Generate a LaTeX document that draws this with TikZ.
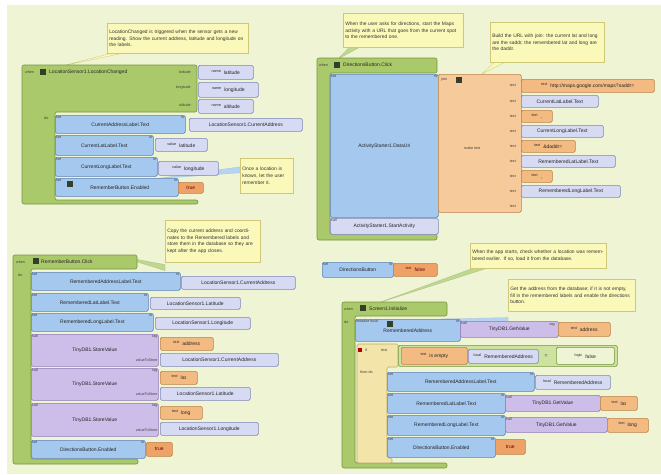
\documentclass[tikz,border=0pt]{standalone}
\usepackage{fontspec}
\setsansfont{Liberation Sans}
\pgfdeclarelayer{paper}
\pgfdeclarelayer{tails}
\pgfsetlayers{paper,tails,main}

\definecolor{cBg}{RGB}{238,244,212}
\definecolor{cEv}{RGB}{170,201,106}
\definecolor{cEvD}{RGB}{118,148,62}
\definecolor{cBlue}{RGB}{164,200,238}
\definecolor{cBlueD}{RGB}{92,128,180}
\definecolor{cLav}{RGB}{214,218,243}
\definecolor{cLavD}{RGB}{128,134,182}
\definecolor{cPur}{RGB}{204,190,233}
\definecolor{cPurD}{RGB}{140,120,182}
\definecolor{cOr}{RGB}{243,186,130}
\definecolor{cOrD}{RGB}{188,130,72}
\definecolor{cTrue}{RGB}{238,162,104}
\definecolor{cJoin}{RGB}{246,202,154}
\definecolor{cCm}{RGB}{251,249,186}
\definecolor{cCmD}{RGB}{206,200,120}
\definecolor{cIf}{RGB}{243,228,170}
\definecolor{cIfD}{RGB}{190,170,100}
\definecolor{cCmp}{RGB}{206,226,160}
\definecolor{cIcon}{RGB}{52,62,40}

\newcommand\blkfont{\sffamily\fontsize{5}{6}\selectfont}
\newcommand\smfont{\sffamily\fontsize{3.7}{4.2}\selectfont}
\newcommand\cmfont{\sffamily\fontsize{4.9}{6.6}\selectfont}
\newcommand\nm[1]{\raisebox{2pt}{\smfont #1}\hspace{3pt}}
% block node: style, name, x1, y1, x2, y2, text
\newcommand\bk[7]{\node[#1,anchor=north west,minimum width={#5-#3},minimum height={#6-#4}] (#2) at (#3,#4) {#7};}

\tikzset{
  sl/.style={font=\smfont, inner sep=1pt, text=black!75},
  evt/.style={font=\blkfont, inner sep=0pt, text=black!85},
  blk/.style={rounded corners=1.5pt, line width=0.6pt, inner sep=0.5pt, font=\blkfont, text=black!85},
  setb/.style={blk, fill=cBlue, draw=cBlueD,
    label={[sl,anchor=north west]north west:set},
    label={[sl,anchor=north east]north east:to}},
  getb/.style={blk, fill=cLav, draw=cLavD},
  callb/.style={blk, fill=cPur, draw=cPurD, label={[sl,anchor=north west]north west:call}},
  txtb/.style={blk, fill=cOr, draw=cOrD},
  boolb/.style={blk, fill=cTrue, draw=cOrD, text=red!40!black},
  evf/.style={fill=cEv, draw=cEvD, line width=0.6pt, rounded corners=2pt},
  cmt/.style={draw=cCmD, fill=cCm, line width=0.6pt, inner sep=2pt, font=\cmfont,
    align=left, anchor=north west, text=black!80},
  tailg/.style={fill=cEv!75, draw=cEvD!60, line width=0.3pt},
  tailb/.style={fill=cBlue!80, draw=cBlueD!50, line width=0.3pt},
  tailc/.style={fill=cCm, draw=cCmD, line width=0.3pt},
}

\begin{document}
\begin{tikzpicture}[x=1pt,y=-1pt]
\useasboundingbox (0,0) rectangle (661,474);
\begin{pgfonlayer}{paper}
  \fill[white] (0,0) rectangle (661,474);
  \fill[cBg] (7,5) rectangle (661,474);
\end{pgfonlayer}

% ---------------- when LocationSensor1.LocationChanged ----------------
\path[evf] (22,65) -- (197,65) -- (197,112) -- (55,112) -- (55,200) -- (198,200) -- (198,204) -- (22,204) -- cycle;
\node[sl,anchor=west] at (24,72) {when};
\fill[cIcon] (40,69) rectangle (46,75);
\node[evt,anchor=west] (ev1) at (49,72) {LocationSensor1.LocationChanged};
\coordinate (ev1tip) at (62,66);
\node[sl,anchor=east] at (192,72) {latitude};
\node[sl,anchor=east] at (192,88) {longitude};
\node[sl,anchor=east] at (192,105) {altitude};
\bk{getb}{n1a}{198}{65}{253}{79}{\nm{name}latitude}
\bk{getb}{n1b}{198}{82}{258}{97}{\nm{name}longitude}
\bk{getb}{n1c}{198}{99}{253}{113}{\nm{name}altitude}
\node[sl,anchor=west] at (43,118) {do};
\bk{setb}{b1a}{55}{115}{185}{133}{CurrentAddressLabel.Text\hspace{8pt}}
\bk{getb}{g1a}{189}{118}{302}{131}{LocationSensor1.CurrentAddress}
\bk{setb}{b1b}{55}{135}{153}{155}{CurrentLatLabel.Text\hspace{6pt}}
\bk{getb}{g1b}{155}{138}{207}{151}{\nm{value}latitude}
\bk{setb}{b1c}{55}{157}{157}{176}{CurrentLongLabel.Text\hspace{6pt}}
\bk{getb}{g1c}{158}{161}{218}{175}{\nm{value}longitude}
\bk{setb}{b1d}{55}{178}{178}{196}{\hspace{6pt}RememberButton.Enabled}
\fill[cIcon] (67,181) rectangle (73,187);
\bk{boolb}{t1d}{178}{182}{203}{193}{true}

\node[cmt,text width=137,minimum width=141,minimum height=30] (cm1) at (107,23)
  {LocationChanged is triggered when the sensor gets a new reading. Show the current address, latitude and longitude on the labels.};
\node[cmt,text width=49,minimum width=53,minimum height=35] (cm1b) at (240,158)
  {Once a location is known, let the user remember it.};
\begin{pgfonlayer}{tails}
  \filldraw[tailc] ([xshift=3pt]cm1.south west) -- ([xshift=14pt]cm1.south west) -- (ev1tip) -- cycle;
  \filldraw[tailb] ([yshift=3pt]cm1b.west) -- ([yshift=9pt]cm1b.west) -- ([yshift=-2pt]b1c.south east) -- cycle;
\end{pgfonlayer}

% ---------------- when DirectionsButton.Click ----------------
\path[evf] (317,58) -- (437,58) -- (437,73) -- (330,73) -- (330,234) -- (437,234) -- (437,240) -- (317,240) -- cycle;
\node[sl,anchor=west] at (318,65) {when};
\fill[cIcon] (334,62) rectangle (340,68);
\node[evt,anchor=west] (ev2) at (343,65) {DirectionsButton.Click};
\coordinate (ev2tip) at (338,59);
\bk{setb}{b2}{330}{74}{438}{217}{ActivityStarter1.DataUri}
\node[blk,fill=cLav,draw=cLavD,anchor=north west,minimum width=108,minimum height=16,
      label={[sl,anchor=north west]north west:call}] (c2) at (330,218) {ActivityStarter1.StartActivity};
\node[blk,fill=cJoin,draw=cOrD,anchor=north west,minimum width=83,minimum height=138] (j2) at (438,74) {};
\node[sl,anchor=west] at (440,80) {join};
\fill[cIcon] (456,77) rectangle (462,83);
\node[sl,anchor=west] at (463,148) {make text};
\foreach \yy in {85,101,116,131,146,161,176,191,206}
  \node[sl,anchor=east] at (517,\yy) {text};
\bk{txtb}{t2a}{521}{79}{654}{92}{\nm{text}http://maps.google.com/maps?saddr=}
\bk{getb}{g2a}{521}{95}{598}{107}{CurrentLatLabel.Text}
\bk{txtb}{t2b}{521}{110}{552}{122}{\nm{text},}
\bk{getb}{g2b}{521}{125}{603}{137}{CurrentLongLabel.Text}
\bk{txtb}{t2c}{521}{140}{575}{152}{\nm{text}\&daddr=}
\bk{getb}{g2c}{521}{155}{615}{167}{RememberedLatLabel.Text}
\bk{txtb}{t2d}{521}{170}{552}{182}{\nm{text},}
\bk{getb}{g2d}{521}{185}{620}{197}{RememberedLongLabel.Text}

\node[cmt,text width=116,minimum width=120,minimum height=34] (cm2a) at (343,13)
  {When the user asks for directions, start the Maps activity with a URL that goes from the current spot to the remembered one.};
\node[cmt,text width=110,minimum width=114,minimum height=40] (cm2b) at (490,22)
  {Build the URL with join: the current lat and long are the saddr, the remembered lat and long are the daddr.};
\begin{pgfonlayer}{tails}
  \filldraw[tailg] ([xshift=6pt]cm2a.south west) -- ([xshift=16pt]cm2a.south west) -- (ev2tip) -- cycle;
  \filldraw[tailc] ([xshift=4pt]cm2b.south west) -- ([xshift=14pt]cm2b.south west) -- ([xshift=44pt]j2.north west) -- cycle;
\end{pgfonlayer}

% ---------------- when RememberButton.Click ----------------
\path[evf] (13,255) -- (137,255) -- (137,269) -- (31,269) -- (31,459) -- (138,459) -- (138,464) -- (13,464) -- cycle;
\node[sl,anchor=west] at (15,262) {when};
\fill[cIcon] (33,258) rectangle (39,264);
\node[evt,anchor=west] (ev3) at (41,262) {RememberButton.Click};
\coordinate (ev3tip) at (118,256);
\node[sl,anchor=west] at (17,275) {do};
\bk{setb}{b3a}{31}{272}{180}{290}{RememberedAddressLabel.Text\hspace{10pt}}
\bk{getb}{g3a}{181}{276}{295}{289}{LocationSensor1.CurrentAddress}
\bk{setb}{b3b}{31}{293}{148}{311}{RememberedLatLabel.Text\hspace{8pt}}
\bk{getb}{g3b}{150}{297}{240}{309}{LocationSensor1.Latitude}
\bk{setb}{b3c}{31}{313}{153}{331}{RememberedLongLabel.Text\hspace{8pt}}
\bk{getb}{g3c}{155}{317}{250}{329}{LocationSensor1.Longitude}
\foreach \nn/\ya/\yb/\tg/\tx/\gx/\gt in {
    a/334/366/address/213/278/CurrentAddress,
    b/368/400/lat/197/250/Latitude,
    c/403/436/long/202/258/Longitude}{
  \node[callb,anchor=north west,minimum width=127,minimum height={\yb-\ya},
        label={[sl,anchor=north east]north east:tag},
        label={[sl,anchor=south east,yshift=4pt]south east:valueToStore}]
        (p3\nn) at (31,\ya) {TinyDB1.StoreValue\hspace{34pt}};
  \node[txtb,anchor=north west,minimum width={\tx-160},minimum height=13] (o3\nn) at (160,\ya+3) {\nm{text}\tg};
  \node[getb,anchor=north west,minimum width={\gx-160},minimum height=13] (l3\nn) at (160,\ya+19) {LocationSensor1.\gt};
}
\bk{setb}{b3d}{31}{440}{145}{458}{DirectionsButton.Enabled\hspace{6pt}}
\bk{boolb}{t3d}{146}{442}{172}{456}{true}

\node[cmt,text width=91,minimum width=95,minimum height=42] (cm3) at (165,220)
  {Copy the current address and coordinates to the Remembered labels and store them in the database so they are kept after the app closes.};
\begin{pgfonlayer}{tails}
  \filldraw[tailg] ([yshift=-8pt]cm3.south west) -- ([yshift=-2pt]cm3.south west) -- (ev3tip) -- cycle;
\end{pgfonlayer}

% ---------------- loose block ----------------
\bk{setb}{bm}{322}{262}{393}{277}{DirectionsButton}
\bk{boolb}{tm}{393}{263}{437}{276}{\nm{text}false}

% ---------------- when Screen1.Initialize ----------------
\path[evf] (342,302) -- (447,302) -- (447,316) -- (355,316) -- (355,463) -- (447,463) -- (447,468) -- (342,468) -- cycle;
\node[sl,anchor=west] at (343,309) {when};
\fill[cIcon] (360,305) rectangle (366,311);
\node[evt,anchor=west] (ev4) at (369,309) {Screen1.Initialize};
\coordinate (ev4tip) at (378,303);
\node[sl,anchor=west] at (343,322) {do};
\node[blk,fill=cBlue,draw=cBlueD,anchor=north west,minimum width=105,minimum height=22,
      label={[sl,anchor=north west]north west:initialize local},
      label={[sl,anchor=north east]north east:to}] (b4a) at (355,319) {\raisebox{-4pt}{RememberedAddress}};
\fill[cIcon] (387,321) rectangle (393,327);
\bk{callb}{p4a}{460}{321}{558}{337}{TinyDB1.GetValue}
\node[sl,anchor=east] at (556,325) {tag};
\bk{txtb}{o4a}{558}{322}{610}{336}{\nm{text}address}

% if block
\path[fill=cIf,draw=cIfD,line width=0.6pt,rounded corners=1.5pt]
  (357,344) -- (398,344) -- (398,367) -- (387,367) -- (387,458) -- (392,458) -- (392,463) -- (357,463) -- cycle;
\fill[red!70!black] (358,348) rectangle (362,352);
\node[sl,anchor=west] (if4) at (364,350) {if};
\node[sl,anchor=west] at (380,350) {test};
\node[sl,anchor=west] at (359,372) {then-do};
\bk{blk,fill=cCmp,draw=cEvD}{k4}{398}{345}{617}{366}{}
\bk{txtb}{o4b}{401}{347}{467}{364}{\nm{text}is empty}
\bk{getb}{l4b}{468}{349}{538}{363}{\nm{local}RememberedAddress}
\node[evt] at (546,356) {=};
\bk{blk,fill=cBg,draw=cEvD}{k4b}{556}{347}{614}{364}{\nm{logic}false}

\bk{setb}{b4b}{387}{372}{534}{391}{RememberedAddressLabel.Text\hspace{8pt}}
\bk{getb}{l4c}{535}{375}{610}{389}{\nm{local}RememberedAddress}
\bk{setb}{b4c}{387}{393}{505}{413}{RememberedLatLabel.Text\hspace{6pt}}
\bk{callb}{p4b}{505}{395}{600}{411}{TinyDB1.GetValue}
\bk{txtb}{o4c}{600}{396}{637}{410}{\nm{text}lat}
\bk{setb}{b4d}{387}{415}{505}{435}{RememberedLongLabel.Text\hspace{6pt}}
\bk{callb}{p4c}{505}{417}{607}{432}{TinyDB1.GetValue}
\bk{txtb}{o4d}{607}{418}{648}{432}{\nm{text}long}
\bk{setb}{b4e}{387}{437}{495}{457}{DirectionsButton.Enabled\hspace{6pt}}
\bk{boolb}{o4e}{495}{439}{525}{454}{true}

\node[cmt,text width=132,minimum width=136,minimum height=25] (cm4a) at (470,243)
  {When the app starts, check whether a location was remembered earlier. If so, load it from the database.};
\node[cmt,text width=123,minimum width=127,minimum height=32] (cm4b) at (508,279)
  {Get the address from the database; if it is not empty, fill in the remembered labels and enable the directions button.};
\begin{pgfonlayer}{tails}
  \filldraw[tailg] ([xshift=2pt]cm4a.south west) -- ([xshift=16pt]cm4a.south west) -- (ev4tip) -- cycle;
  \filldraw[tailb] ([yshift=-14pt]cm4b.south west) -- ([yshift=-6pt]cm4b.south west) -- ([xshift=-20pt]b4a.north east) -- cycle;
\end{pgfonlayer}
\end{tikzpicture}
\end{document}
